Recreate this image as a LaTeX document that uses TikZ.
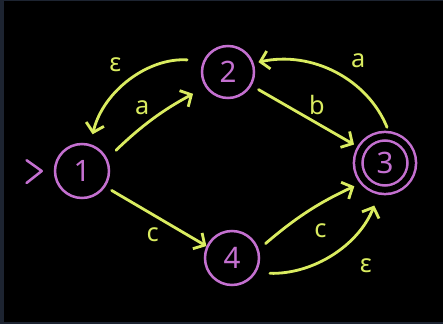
\documentclass[tikz,border=0pt]{standalone}
\usepackage{fontspec}
\setmainfont{Noto Sans}
\usetikzlibrary{arrows.meta}
\definecolor{penpurple}{RGB}{196,112,208}
\definecolor{penyellow}{RGB}{218,236,96}
\definecolor{framegray}{RGB}{29,36,49}

\begin{document}
\begin{tikzpicture}[line cap=round]
        \tikzstyle{state}=[circle,line width=1.8pt,draw=penpurple,text=penpurple,minimum size=1.35cm,inner sep=0pt,font=\fontsize{21}{21}\selectfont]
        \tikzstyle{accept}=[state,double=black,double distance=0.15cm,minimum size=1.34cm]
        \tikzstyle{trans}=[draw=penyellow,line width=2pt,-{Straight Barb[length=6pt,width=13pt,line width=2pt]}]
        \tikzstyle{lbl}=[text=penyellow,font=\fontsize{18}{18}\selectfont,inner sep=1pt]
       % screen frame
       \useasboundingbox (0,0) rectangle (11.075,8.1);
       \fill[framegray] (0,0) rectangle (11.075,8.1);
       \fill[black] (0.1,0.05) rectangle (11.075,8.075);
       \begin{scope}
         \node [state] (q1) at (2.05,3.825) {1};
         \node [state,minimum size=1.3cm] (q2) at (5.7,6.3) {2};
         \node [accept] (q3) at (9.625,4.025) {3};
         \node [state] (q4) at (5.8,1.65) {4};

         % start marker
         \coordinate (start) at ([xshift=-0.3cm]q1.west);
         \draw [penpurple,line width=1.8pt,line join=round] (start) ++(-0.38,0.27) -- (start) -- ++(-0.38,-0.3);

         \draw[trans,shorten <=0.3cm,shorten >=0.35cm] (q1.26) to [bend left=8] node[lbl,above left=1pt] {a} (q2.214);
         \draw[trans,shorten <=0.4cm,shorten >=0.25cm] (q2.156) to [bend right=40] node[lbl,above left=5pt] {ε} (q1.73);

         \draw[trans,shorten <=0.2cm,shorten >=0.2cm] (q2.-30) to node[lbl,above right=0pt] {b} (q3.149);
         \draw[trans,shorten <=0.22cm,shorten >=0.12cm] (q3.79) to [bend right=40] node[lbl,above right=2pt,xshift=7pt] {a} (q2.19);

         \draw[trans,shorten <=0.18cm,shorten >=0pt] (q1.-34) to node[lbl,below left=2pt,xshift=6pt,yshift=-4pt] {c} (q4.155);
         \draw[trans,shorten <=0.22cm,shorten >=0.27cm] (q4.18) to [bend left=8] node[lbl,below right=2pt,yshift=-5pt] {c} (q3.222);
         \draw[trans,shorten <=0.35cm,shorten >=0.4cm] (q4.-32) to [bend right=35] node[lbl,below right=2pt,xshift=16pt] {ε} (q3.260);
        \end{scope}
      \end{tikzpicture}
\end{document}
